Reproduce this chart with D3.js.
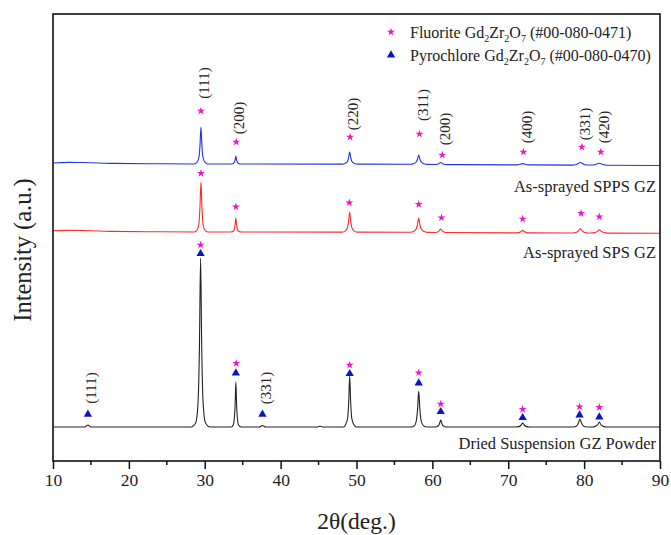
<!DOCTYPE html>
<html>
<head>
<meta charset="utf-8">
<script src="https://cdn.jsdelivr.net/npm/d3@7"></script>
<style>
  body { margin: 0; background: #fff; }
  svg { font-family: "Liberation Serif", "Times New Roman", serif; }
</style>
</head>
<body>
<div id="svg-container"></div>
<script>
// XRD patterns, [2theta, intensity above the pattern's own baseline]
const dried = [
  [10, 0], [14.2, 0], [14.6, 2], [15.0, 0], [28.2, 0], [28.8, 4], [29.1, 22], [29.3, 80],
  [29.45, 169], [29.6, 80], [29.8, 22], [30.1, 4], [30.7, 0], [33.5, 0], [33.75, 2],
  [33.9, 9], [34.0, 22], [34.1, 45], [34.2, 22], [34.3, 9], [34.45, 2], [34.8, 0], [37.2, 0],
  [37.6, 1.5], [38.0, 0], [44.9, 0], [45.2, 0.8], [45.5, 0], [48.3, 0], [48.6, 3], [48.85, 10],
  [48.97, 25], [49.1, 51], [49.23, 25], [49.35, 10], [49.6, 3], [50.0, 0], [57.3, 0], [57.7, 2],
  [57.9, 7], [58.05, 18], [58.2, 36], [58.35, 18], [58.5, 7], [58.75, 2], [59.2, 0], [60.4, 0],
  [60.75, 1], [60.95, 3.5], [61.1, 7], [61.25, 3.5], [61.45, 1], [61.8, 0], [71.0, 0], [71.4, 0.4],
  [71.7, 2], [71.9, 4], [72.1, 2], [72.4, 0.4], [72.8, 0], [78.6, 0], [79.0, 1], [79.25, 4],
  [79.45, 8], [79.65, 4], [79.9, 1], [80.4, 0], [81.1, 0], [81.5, 0.8], [81.8, 2.5], [82.0, 5],
  [82.2, 2.5], [82.5, 0.8], [82.9, 0], [90, 0]
];
const sps = [
  [10, 1.2], [12, 1.6], [14, 1.5], [18, 0.6], [24, 0.2], [28.6, 0], [29.0, 2], [29.24, 9],
  [29.37, 25], [29.5, 50], [29.63, 25], [29.76, 9], [30.0, 2], [30.4, 0], [33.4, 0], [33.7, 0.5],
  [33.9, 3], [34.0, 7], [34.1, 14], [34.2, 7], [34.3, 3], [34.5, 0.5], [34.8, 0], [48.1, -0.1],
  [48.5, 0.9], [48.8, 4], [48.95, 10], [49.1, 20], [49.25, 10], [49.4, 4], [49.7, 0.9], [50.1, -0.1],
  [57.1, -0.3], [57.5, 0.4], [57.86, 3], [58.03, 7], [58.2, 14], [58.37, 7], [58.54, 3], [58.9, 0.4],
  [59.3, -0.4], [60.2, -0.5], [60.6, -0.2], [60.9, 1.2], [61.1, 3], [61.3, 1.2], [61.6, -0.2],
  [62.0, -0.5], [71.2, -0.9], [71.65, 0.3], [71.9, 1.6], [72.15, 0.3], [72.6, -0.9], [78.5, -1.0],
  [78.9, -0.5], [79.25, 1.2], [79.5, 3.2], [79.75, 1.2], [80.1, -0.5], [80.5, -1.0], [81.0, -1.0],
  [81.4, -0.6], [81.75, 0.6], [82.0, 2.2], [82.25, 0.6], [82.6, -0.6], [83.0, -1.1], [90, -1.3]
];
const spps = [
  [10, 1.0], [12, 1.6], [14, 1.5], [18, 0.6], [24, 0.2], [28.6, 0], [29.0, 2], [29.24, 7],
  [29.37, 18], [29.5, 37], [29.63, 18], [29.76, 7], [30.0, 2], [30.4, 0], [33.4, 0], [33.7, 0.3],
  [33.9, 1.8], [34.0, 4], [34.1, 8], [34.2, 4], [34.3, 1.8], [34.5, 0.3], [34.8, 0], [48.1, -0.1],
  [48.5, 0.6], [48.8, 2.5], [48.95, 6], [49.1, 12], [49.25, 6], [49.4, 2.5], [49.7, 0.6],
  [50.2, -0.1], [57.1, -0.3], [57.5, 0.2], [57.86, 2], [58.03, 4.5], [58.2, 9], [58.37, 4.5],
  [58.54, 2], [58.9, 0.2], [59.3, -0.4], [60.2, -0.5], [60.7, -0.2], [61.1, 1.5], [61.5, -0.2],
  [62.0, -0.6], [71.2, -0.9], [71.9, 0.4], [72.6, -0.9], [78.5, -1.1], [79.0, -0.4], [79.5, 1.5],
  [80.0, -0.4], [80.5, -1.0], [81.2, -1.0], [81.6, -0.2], [82.0, 0.8], [82.4, -0.2], [82.9, -1.2],
  [90, -1.5]
];

// vertical offsets of the stacked patterns
const seriesNames = ["Dried Suspension GZ Powder", "As-sprayed SPS GZ", "As-sprayed SPPS GZ"];
const seriesData = [dried, sps, spps];
const seriesOffset = [34, 229, 297];
const seriesColor = ["#222222", "#ff2a2a", "#2233e0"];
const seriesLabelY = [16, 20, 22]; // label sits this far below the baseline

// reflection markers [2theta, intensity above baseline]
const fluoriteMarks = [
  // SPPS
  [[29.5, 53], [34.15, 22], [49.15, 27], [58.3, 30], [61.3, 9], [72.0, 12], [79.7, 17], [82.2, 12]],
  // SPS
  [[29.5, 58.7], [34.1, 25.3], [49.05, 29.3], [58.2, 27.7], [61.2, 14.3], [71.9, 13], [79.6, 18.7], [82.0, 15.3]],
  // dried
  [[29.45, 182], [34.15, 63.7], [49.1, 62], [58.2, 54.3], [61.1, 23], [71.9, 17.7], [79.4, 20.3], [82.0, 19.7]]
];
const pyroMarks = [
  [14.6, 13.7], [29.45, 174.3], [34.1, 55], [37.6, 13.7], [49.1, 54.3], [58.2, 45],
  [61.1, 16.3], [71.9, 10.3], [79.4, 13], [82.0, 11]
];
const sppsHkl = ["(111)", "(200)", "(220)", "(311)", "(200)", "(400)", "(331)", "(420)"];
const sppsHklX = [29.5, 34.15, 49.15, 58.3, 61.3, 72.0, 79.7, 82.2];
const sppsHklY = [81, 46, 50, 59, 35, 37, 40, 37];
const driedHkl = ["(111)", "(331)"];
const driedHklX = [14.6, 37.6];
const driedHklY = [39, 39];

const legendItems = [
  { symbol: "star", name: "Fluorite", code: "(#00-080-0471)" },
  { symbol: "triangle", name: "Pyrochlore", code: "(#00-080-0470)" }
];

const starColor = "#f012c4";
const triColor = "#0a14c8";

const width = 671, height = 535;
const margin = { top: 14, right: 11, bottom: 74, left: 53 };

const svg = d3.select("#svg-container").append("svg")
  .attr("width", width).attr("height", height);

const x = d3.scaleLinear().domain([10, 90]).range([margin.left, width - margin.right]);
const y = d3.scaleLinear().domain([0, height - margin.top - margin.bottom])
  .range([height - margin.bottom, margin.top]);

const star = d3.symbol().type(d3.symbolStar).size(20);
const tri = d3.symbol().type(d3.symbolTriangle).size(30);

// patterns
seriesData.forEach((data, i) => {
  const line = d3.line()
    .x(d => x(d[0]))
    .y(d => y(d[1] + seriesOffset[i]))
    .curve(d3.curveMonotoneX);
  svg.append("path")
    .datum(data)
    .attr("d", line)
    .attr("fill", "none")
    .attr("stroke", seriesColor[i])
    .attr("stroke-width", 1.1);

  svg.append("text")
    .attr("x", width - margin.right - 4)
    .attr("y", y(seriesOffset[i] - seriesLabelY[i]))
    .attr("dy", "0.35em")
    .attr("text-anchor", "end")
    .attr("font-size", 16.5)
    .attr("fill", "#222")
    .text(seriesNames[i]);
});

// markers
const markOffsets = [seriesOffset[2], seriesOffset[1], seriesOffset[0]];
fluoriteMarks.forEach((marks, i) => {
  svg.selectAll(null).data(marks).enter().append("path")
    .attr("d", star)
    .attr("transform", d => `translate(${x(d[0])},${y(d[1] + markOffsets[i])})`)
    .attr("fill", starColor);
});
svg.selectAll(null).data(pyroMarks).enter().append("path")
  .attr("d", tri)
  .attr("transform", d => `translate(${x(d[0])},${y(d[1] + seriesOffset[0]) + 1})`)
  .attr("fill", triColor);

// hkl labels
function hklLabels(labels, xs, ys, off) {
  svg.selectAll(null).data(labels).enter().append("text")
    .attr("transform", (d, i) => `translate(${x(xs[i]) + 3},${y(ys[i] + off)}) rotate(-90)`)
    .attr("text-anchor", "middle")
    .attr("dy", "0.35em")
    .attr("font-size", 15)
    .attr("fill", "#222")
    .text(d => d);
}
hklLabels(sppsHkl, sppsHklX, sppsHklY, seriesOffset[2]);
hklLabels(driedHkl, driedHklX, driedHklY, seriesOffset[0]);

// frame
svg.append("rect")
  .attr("x", margin.left).attr("y", margin.top)
  .attr("width", width - margin.left - margin.right)
  .attr("height", height - margin.top - margin.bottom)
  .attr("fill", "none").attr("stroke", "#111").attr("stroke-width", 1.6);

// x axis
const xAxis = svg.append("g")
  .attr("transform", `translate(0,${height - margin.bottom})`)
  .call(d3.axisBottom(x).tickValues(d3.range(10, 91, 10)).tickSize(8).tickPadding(5).tickFormat(d3.format("d")));
xAxis.select(".domain").remove();
xAxis.selectAll(".tick line").attr("stroke", "#111").attr("stroke-width", 1.5);
xAxis.selectAll(".tick text").attr("font-size", 17.5).attr("fill", "#222")
  .attr("font-family", "Liberation Serif, serif");

svg.append("g")
  .attr("transform", `translate(0,${height - margin.bottom})`)
  .selectAll("line").data(d3.range(15, 90, 10)).enter().append("line")
  .attr("x1", d => x(d)).attr("x2", d => x(d))
  .attr("y1", 0).attr("y2", 4)
  .attr("stroke", "#111").attr("stroke-width", 1.5);

// axis titles
svg.append("text")
  .attr("x", (margin.left + width - margin.right) / 2)
  .attr("y", 529)
  .attr("text-anchor", "middle")
  .attr("font-size", 23.5)
  .attr("fill", "#222")
  .text("2θ(deg.)");

svg.append("text")
  .attr("transform", `translate(31,250) rotate(-90)`)
  .attr("text-anchor", "middle")
  .attr("font-size", 24.5)
  .attr("fill", "#222")
  .text("Intensity (a.u.)");

// legend
const legend = svg.append("g");
legendItems.forEach((item, i) => {
  const ly = 32 + i * 23;
  legend.append("path")
    .attr("d", item.symbol === "star" ? star : tri)
    .attr("transform", `translate(391,${ly})`)
    .attr("fill", item.symbol === "star" ? starColor : triColor);
  const t = legend.append("text")
    .attr("x", 410).attr("y", ly).attr("dy", "0.35em")
    .attr("font-size", 16).attr("fill", "#222");
  t.append("tspan").text(item.name + " Gd");
  t.append("tspan").attr("font-size", 10).attr("dy", 4).text("2");
  t.append("tspan").attr("dy", -4).text("Zr");
  t.append("tspan").attr("font-size", 10).attr("dy", 4).text("2");
  t.append("tspan").attr("dy", -4).text("O");
  t.append("tspan").attr("font-size", 10).attr("dy", 4).text("7");
  t.append("tspan").attr("dy", -4).text(" " + item.code);
});
</script>
</body>
</html>
